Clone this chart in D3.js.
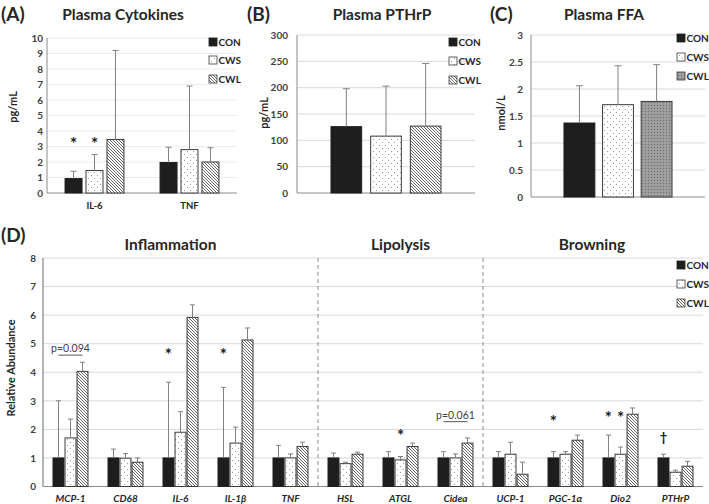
<!DOCTYPE html>
<html><head><meta charset="utf-8">
<script src="https://cdn.jsdelivr.net/npm/d3@7"></script>
<style>
body{margin:0;background:#fff;}
svg text{font-family:Lato,"Open Sans",sans-serif;}
</style></head>
<body><svg id="c" width="709" height="504"></svg>
<script>
// ---------- DATA ----------
const seriesNames = ["CON", "CWS", "CWL"];

// Panel A: Plasma Cytokines (pg/mL)
const aCategories = ["IL-6", "TNF"];
const aCON = [0.93, 1.97];
const aCWS = [1.45, 2.8];
const aCWL = [3.45, 2.0];
const aSdCON = [0.47, 0.98];
const aSdCWS = [1.03, 4.1];
const aSdCWL = [5.75, 0.92];
const aTicks = [0,1,2,3,4,5,6,7,8,9,10];
const aStars = [{cat:"IL-6", s:"CON", y:3.4, t:"*"}, {cat:"IL-6", s:"CWS", y:3.4, t:"*"}];

// Panel B: Plasma PTHrP (pg/mL)
const bCategories = [""];
const bCON = [126];
const bCWS = [108];
const bCWL = [127];
const bSdCON = [72];
const bSdCWS = [95];
const bSdCWL = [119];
const bTicks = [0,50,100,150,200,250,300];

// Panel C: Plasma FFA (nmol/L)
const cCategories = [""];
const cCON = [1.37];
const cCWS = [1.71];
const cCWL = [1.77];
const cSdCON = [0.69];
const cSdCWS = [0.72];
const cSdCWL = [0.68];
const cTicks = [0,0.5,1,1.5,2,2.5,3];

// Panel D: Relative abundance
const dCategories = ["MCP-1","CD68","IL-6","IL-1β","TNF","HSL","ATGL","Cidea","UCP-1","PGC-1α","Dio2","PTHrP"];
const dCON = [1,1,1,1,1,1,1,1,1,1,1,1];
const dCWS = [1.7,0.99,1.9,1.52,1.0,0.8,0.93,1.0,1.13,1.13,1.13,0.5];
const dCWL = [4.03,0.85,5.92,5.13,1.4,1.13,1.4,1.52,0.43,1.62,2.53,0.71];
const dSdCON = [2.0,0.31,2.65,2.47,0.44,0.17,0.22,0.22,0.22,0.22,0.8,0.13];
const dSdCWS = [0.66,0.16,0.72,0.56,0.14,0.05,0.12,0.14,0.42,0.09,0.25,0.07];
const dSdCWL = [0.32,0.15,0.44,0.42,0.15,0.07,0.12,0.18,0.42,0.18,0.22,0.17];
const dTicks = [0,1,2,3,4,5,6,7,8];
const dSections = [{name:"Inflammation", from:"MCP-1", to:"TNF", shift:-10},
                   {name:"Lipolysis", from:"HSL", to:"Cidea", shift:0},
                   {name:"Browning", from:"UCP-1", to:"PTHrP", shift:-1}];
const dMarks = [
  {cat:"IL-6", s:"CON", y:4.75, t:"*"},
  {cat:"IL-1β", s:"CON", y:4.75, t:"*"},
  {cat:"ATGL", s:"CWS", y:1.9, t:"*"},
  {cat:"PGC-1α", s:"CON", y:2.4, t:"*"},
  {cat:"Dio2", s:"CON", y:2.55, t:"*"},
  {cat:"Dio2", s:"CWS", y:2.55, t:"*"},
  {cat:"PTHrP", s:"CON", y:1.73, t:"†"}
];
const dPvals = [{cat:"MCP-1", y:4.6, t:"p=0.094"}, {cat:"Cidea", y:2.27, t:"p=0.061"}];

// ---------- DRAW ----------
const svg = d3.select("#c");
const defs = svg.append("defs");

const pDots = defs.append("pattern").attr("id","dots").attr("patternUnits","userSpaceOnUse").attr("width",6).attr("height",6);
pDots.append("rect").attr("width",6).attr("height",6).attr("fill","#fff");
pDots.append("circle").attr("cx",1.5).attr("cy",1.5).attr("r",0.55).attr("fill","#888");
pDots.append("circle").attr("cx",4.5).attr("cy",4.5).attr("r",0.55).attr("fill","#888");

const pHatch = defs.append("pattern").attr("id","hatch").attr("patternUnits","userSpaceOnUse").attr("width",3).attr("height",3);
pHatch.append("rect").attr("width",3).attr("height",3).attr("fill","#fff");
pHatch.append("path").attr("d","M-1,-1 L4,4 M-1,2 L1,4 M2,-1 L4,1").attr("stroke","#555").attr("stroke-width",0.9);

const pGrey = defs.append("pattern").attr("id","grey").attr("patternUnits","userSpaceOnUse").attr("width",3).attr("height",3);
pGrey.append("rect").attr("width",3).attr("height",3).attr("fill","#9a9a9a");
pGrey.append("rect").attr("width",1).attr("height",1).attr("fill","#6e6e6e");
pGrey.append("rect").attr("x",1.5).attr("y",1.5).attr("width",1).attr("height",1).attr("fill","#b4b4b4");

const fills = {CON:"#1e1e1e", CWS:"url(#dots)", CWL:"url(#hatch)"};
const strokes = {CON:"#1e1e1e", CWS:"#3a3a3a", CWL:"#3a3a3a"};

function panel(o) {
  const g = svg.append("g");
  const y = d3.scaleLinear().domain([0, o.ymax]).range([o.y0, o.y1]);
  const x0 = d3.scaleBand().domain(o.cats).range([o.x0, o.x1]).paddingInner(o.pi).paddingOuter(o.pi/2);
  const x1 = d3.scaleBand().domain(seriesNames).range([0, x0.bandwidth()]).paddingInner(o.pi2).paddingOuter(0);
  g.append("g").selectAll("line").data(o.ticks.filter(t=>t>0)).join("line")
    .attr("x1", o.x0).attr("x2", o.x1)
    .attr("y1", d=>y(d)).attr("y2", d=>y(d))
    .attr("stroke", o.gridColor || "#d9d9d9").attr("stroke-width", 1);
  const ax = g.append("g").attr("transform", `translate(${o.x0 - o.tickGap},0)`)
    .call(d3.axisLeft(y).tickValues(o.ticks).tickSize(0).tickPadding(0).tickFormat(d3.format("")));
  ax.select(".domain").remove();
  ax.selectAll("text").attr("font-size", o.tickFs || 10).attr("font-weight","bold").attr("fill","#404040")
    .attr("font-family","Lato, sans-serif");
  g.append("line").attr("x1",o.x0).attr("x2",o.x0).attr("y1",o.y0).attr("y2",o.y1)
    .attr("stroke", o.axisColor || "#8c8c8c").attr("stroke-width",1);
  g.append("line").attr("x1",o.x0).attr("x2",o.x1).attr("y1",o.y0).attr("y2",o.y0)
    .attr("stroke","#8c8c8c").attr("stroke-width",1);
  const rows = [];
  o.cats.forEach((c,i) => seriesNames.forEach(s => rows.push({c, s, v:o.vals[s][i], sd:o.sds[s][i]})));
  const fl = Object.assign({}, fills, o.fillOverride || {});
  g.append("g").selectAll("rect").data(rows).join("rect")
    .attr("x", d => x0(d.c) + x1(d.s)).attr("width", x1.bandwidth())
    .attr("y", d => y(d.v)).attr("height", d => y(0) - y(d.v))
    .attr("fill", d => fl[d.s]).attr("stroke", d => strokes[d.s]).attr("stroke-width", 1);
  const eg = g.append("g").attr("stroke","#808080").attr("stroke-width",1);
  const cap = o.cap || 3;
  rows.forEach(d => {
    const cx = x0(d.c) + x1(d.s) + x1.bandwidth()/2;
    eg.append("line").attr("x1",cx).attr("x2",cx).attr("y1",y(d.v)).attr("y2",y(d.v+d.sd));
    eg.append("line").attr("x1",cx-cap).attr("x2",cx+cap).attr("y1",y(d.v+d.sd)).attr("y2",y(d.v+d.sd));
  });
  if (o.catLabels) {
    g.append("g").selectAll("text").data(o.cats).join("text")
      .attr("x", d => x0(d) + x0.bandwidth()/2).attr("y", o.catY)
      .attr("text-anchor","middle").attr("font-size", o.catFs || 10).attr("font-weight","bold")
      .attr("font-style", o.catItalic ? "italic" : "normal").attr("fill","#262626")
      .text(d => d);
  }
  const lg = g.append("g");
  seriesNames.forEach((s,i) => {
    const ly = o.legY[i];
    lg.append("rect").attr("x", o.legX).attr("y", ly-4).attr("width",8).attr("height",8)
      .attr("fill", fl[s]).attr("stroke", strokes[s]).attr("stroke-width",0.8);
    lg.append("text").attr("x", o.legX+9.5).attr("y", ly+3.5).attr("font-size",10).attr("font-weight","bold")
      .attr("fill","#262626").text(s);
  });
  if (o.title) g.append("text").attr("x", o.titleX).attr("y", o.titleY).attr("text-anchor","middle")
    .attr("font-size", 15.5).attr("font-weight","bold").attr("fill","#262626").text(o.title);
  g.append("text").attr("x", o.letterX).attr("y", o.letterY).attr("font-size",19).attr("font-weight","bold")
    .attr("fill","#262626").text(o.letter);
  g.append("text").attr("transform", `translate(${o.ytX},${o.ytY}) rotate(-90)`).attr("text-anchor","middle")
    .attr("font-size", o.ytFs || 11).attr("font-weight","bold").attr("fill","#262626").text(o.yTitle);
  return {g, x0, x1, y};
}

const A = panel({cats:aCategories, vals:{CON:aCON,CWS:aCWS,CWL:aCWL}, sds:{CON:aSdCON,CWS:aSdCWS,CWL:aSdCWL},
  ymax:10, ticks:aTicks, x0:47, x1:237, y0:193, y1:38, pi:0.38, pi2:0.19, tickGap:4,
  gridColor:"#ececec", catLabels:true, catY:209, catFs:9.5,
  legX:209, legY:[42,60,79], title:"Plasma Cytokines", titleX:123, titleY:20,
  letter:"(A)", letterX:1, letterY:21, yTitle:"pg/mL", ytX:17, ytY:107, cap:3});
A.g.selectAll(".star").data(aStars).join("text").attr("class","star")
  .attr("x", d => A.x0(d.cat) + A.x1(d.s) + A.x1.bandwidth()/2).attr("y", d => A.y(d.y)+10)
  .attr("text-anchor","middle").attr("font-size",17).attr("font-weight","bold")
  .attr("font-family","DejaVu Sans, sans-serif").attr("fill","#1a1a1a").text(d=>d.t);

panel({cats:bCategories, vals:{CON:bCON,CWS:bCWS,CWL:bCWL}, sds:{CON:bSdCON,CWS:bSdCWS,CWL:bSdCWL},
  ymax:300, ticks:bTicks, x0:297, x1:475, y0:193, y1:35, pi:0.382, pi2:0.227, tickGap:9,
  legX:449, legY:[42,61,80], title:"Plasma PTHrP", titleX:382, titleY:20,
  letter:"(B)", letterX:247, letterY:21, yTitle:"pg/mL", ytX:268, ytY:113, cap:3.5});

panel({cats:cCategories, vals:{CON:cCON,CWS:cCWS,CWL:cCWL}, sds:{CON:cSdCON,CWS:cSdCWS,CWL:cSdCWL},
  ymax:3, ticks:cTicks, x0:531, x1:705, y0:197, y1:35, pi:0.379, pi2:0.2, tickGap:8,
  fillOverride:{CWL:"url(#grey)"},
  legX:677, legY:[38,57,76], title:"Plasma FFA", titleX:604, titleY:20,
  letter:"(C)", letterX:490, letterY:21, yTitle:"nmol/L", ytX:505, ytY:113, cap:3.5});

const D = panel({cats:dCategories, vals:{CON:dCON,CWS:dCWS,CWL:dCWL}, sds:{CON:dSdCON,CWS:dSdCWS,CWL:dSdCWL},
  ymax:8, ticks:dTicks, x0:43, x1:703, y0:486.5, y1:258, pi:0.364, pi2:0.09, tickGap:7,
  axisColor:"#6a6a6a", catLabels:true, catItalic:true, catY:502, catFs:10,
  legX:677, legY:[265,284,303], title:null,
  letter:"(D)", letterX:1, letterY:242, yTitle:"Relative Abundance", ytX:15, ytY:368, cap:2.5, ytFs:11});

const step = D.x0.step();
dSections.forEach((sec,i) => {
  const left = D.x0(sec.from) - D.x0.paddingOuter()*step;
  const right = D.x0(sec.to) + D.x0.bandwidth() + D.x0.paddingOuter()*step;
  D.g.append("text").attr("x",(left+right)/2 + sec.shift).attr("y",250).attr("text-anchor","middle")
    .attr("font-size",15.5).attr("font-weight","bold").attr("fill","#262626").text(sec.name);
  if (i > 0) D.g.append("line").attr("x1",left).attr("x2",left).attr("y1",D.y(8)).attr("y2",D.y(0))
    .attr("stroke","#8c8c8c").attr("stroke-width",1).attr("stroke-dasharray","4,3");
});
D.g.selectAll(".mark").data(dMarks).join("text").attr("class","mark")
  .attr("x", d => D.x0(d.cat) + D.x1(d.s) + D.x1.bandwidth()/2).attr("y", d => D.y(d.y)+ (d.t==="*"?10:5))
  .attr("text-anchor","middle").attr("font-size", d => d.t==="*"?17:13).attr("font-weight","bold")
  .attr("font-family","DejaVu Sans, sans-serif").attr("fill","#1a1a1a").text(d=>d.t);
dPvals.forEach(p => {
  const xa = D.x0(p.cat) + D.x1("CON") + D.x1.bandwidth()/2;
  const xb = D.x0(p.cat) + D.x1("CWL") + D.x1.bandwidth()/2;
  D.g.append("line").attr("x1",xa).attr("x2",xb).attr("y1",D.y(p.y)).attr("y2",D.y(p.y))
    .attr("stroke","#555").attr("stroke-width",1);
  D.g.append("text").attr("x",(xa+xb)/2).attr("y",D.y(p.y)-3).attr("text-anchor","middle")
    .attr("font-size",10.5).attr("fill","#404040").text(p.t);
});
</script></body></html>
